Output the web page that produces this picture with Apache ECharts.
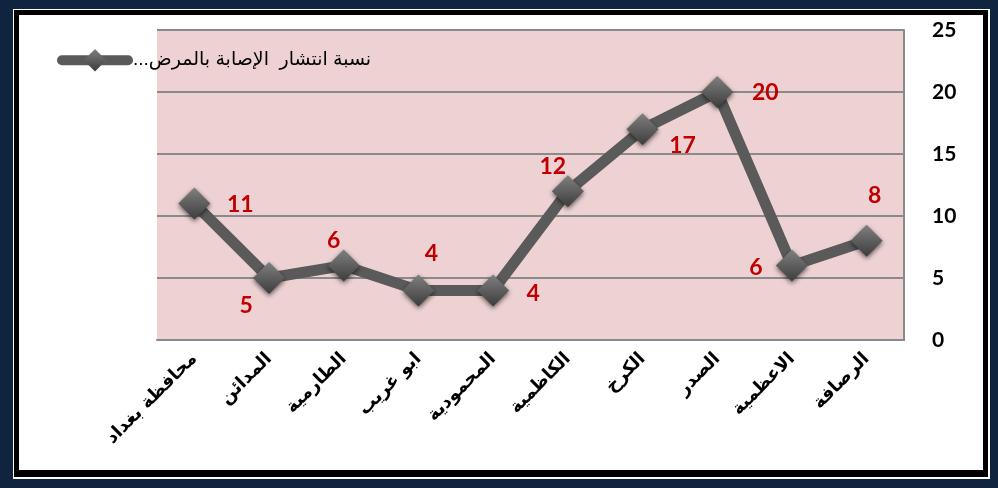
<!DOCTYPE html>
<html>
<head>
<meta charset="utf-8">
<script src="https://cdn.jsdelivr.net/npm/echarts@6/dist/echarts.min.js"></script>
<style>
  html, body { margin: 0; padding: 0; background: #10243f; }
  #chart { width: 998px; height: 488px; }
</style>
</head>
<body>
<div id="chart"></div>
<script>
var categories = ['محافظة بغداد', 'المدائن', 'الطارمية', 'ابو غريب', 'المحمودية', 'الكاظمية', 'الكرخ', 'الصدر', 'الاعظمية', 'الرصافة'];
var values = [11, 5, 6, 4, 4, 12, 17, 20, 6, 8];
var seriesName = '...نسبة انتشار  الإصابة بالمرض';
var yTicks = { min: 0, max: 25, interval: 5 };

// where each value label sits relative to its marker (px)
var labelOffsets = [[46, 1], [-23, 28], [-10, -25], [13, -37], [40, 3], [-15, -25], [40, 16], [48, 1], [-36, 2], [8, -45]];

var seriesData = values.map(function (v, i) {
    return { value: v, label: { offset: labelOffsets[i] } };
});

var chart = echarts.init(document.getElementById('chart'));
chart.setOption({
    backgroundColor: '#10243f',
    animation: false,
    graphic: [
        { type: 'rect', z: -10, shape: { x: 13, y: 9, width: 977, height: 470 }, style: { fill: '#ffffff' } },
        { type: 'rect', z: -9, shape: { x: 14, y: 10, width: 974, height: 467 }, style: { fill: '#000000' } },
        { type: 'rect', z: -8, shape: { x: 19, y: 15, width: 964, height: 455 }, style: { fill: '#ffffff' } }
    ],
    legend: {
        left: 52,
        top: 44,
        itemWidth: 66,
        itemHeight: 28,
        itemGap: 2,
        lineStyle: { width: 10, color: '#5a5a5a', cap: 'round' },
        textStyle: { fontSize: 19, color: '#000', fontFamily: 'Liberation Sans, DejaVu Sans, sans-serif' },
        data: [seriesName]
    },
    grid: {
        left: 157,
        right: 94,
        top: 30,
        bottom: 148,
        show: true,
        backgroundColor: '#eed2d3',
        borderWidth: 0
    },
    xAxis: {
        type: 'category',
        data: categories,
        axisLine: { lineStyle: { color: '#8a8a8a', width: 2 } },
        axisTick: { show: false },
        axisLabel: {
            rotate: 45,
            margin: 16,
            interval: 0,
            fontSize: 18,
            fontWeight: 'bold',
            color: '#000',
            fontFamily: 'DejaVu Sans, sans-serif'
        }
    },
    yAxis: {
        type: 'value',
        position: 'right',
        min: yTicks.min,
        max: yTicks.max,
        interval: yTicks.interval,
        axisLine: { show: true, lineStyle: { color: '#8a8a8a', width: 2 } },
        axisTick: { show: false },
        splitLine: { lineStyle: { color: '#8a8a8a', width: 2 } },
        axisLabel: {
            margin: 28,
            fontSize: 21,
            fontWeight: 'bold',
            color: '#000',
            fontFamily: 'Lato, sans-serif'
        }
    },
    series: [
        {
            name: seriesName,
            type: 'line',
            data: seriesData,
            symbol: 'diamond',
            symbolSize: 32,
            lineStyle: { color: '#5a5a5a', width: 11 },
            itemStyle: {
                color: new echarts.graphic.LinearGradient(0, 0, 0, 1, [
                    { offset: 0, color: '#808080' },
                    { offset: 1, color: '#3c3c3c' }
                ]),
                shadowColor: 'rgba(0,0,0,0.6)',
                shadowBlur: 5,
                shadowOffsetY: 2
            },
            label: {
                show: true,
                position: 'inside',
                color: '#c00000',
                fontSize: 23,
                fontWeight: 'bold',
                fontFamily: 'Lato, sans-serif'
            }
        }
    ]
});
</script>
</body>
</html>
